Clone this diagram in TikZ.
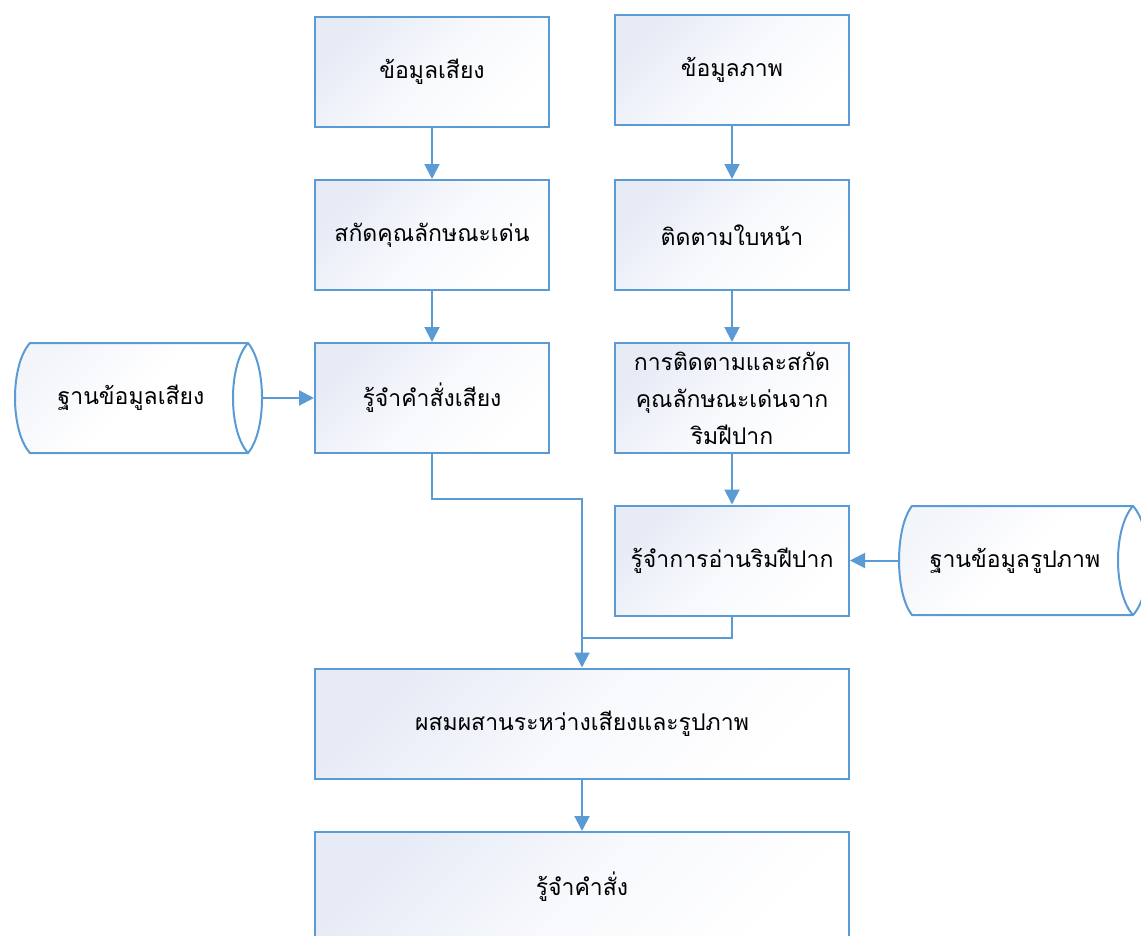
\documentclass[tikz,border=0pt]{standalone}
\usepackage{fontspec}
\newfontfamily\thaifont[Script=Thai]{Loma}
\usetikzlibrary{arrows.meta}
\definecolor{flowblue}{HTML}{5B9BD5}
\definecolor{boxtint}{HTML}{E6EBF6}
\begin{document}
\begin{tikzpicture}[x=1pt,y=-1pt,
  stepbox/.style={draw=flowblue, line width=2pt, minimum width=234pt,
    minimum height=110pt, top color=boxtint, bottom color=white,
    middle color=boxtint!30!white, shading angle=45,
    font=\thaifont\fontsize{23}{37}\selectfont,
    align=center, inner sep=0pt},
  dbbody/.style={minimum height=110pt, inner sep=0pt},
  dblabel/.style={font=\thaifont\fontsize{23}{37}\selectfont, inner sep=0pt},
  dbline/.style={draw=flowblue, line width=2pt, top color=boxtint!50!white,
    bottom color=white, middle color=white, shading angle=45},
  flow/.style={draw=flowblue, line width=2pt,
    -{Triangle[length=15pt,width=15pt]}},
  link/.style={draw=flowblue, line width=2pt}
]
\useasboundingbox (0,0) rectangle (1141,935);
\clip (0,0) rectangle (1141,935);

% process steps
\node[stepbox] (voice)   at (432,72)    {ข้อมูลเสียง};
\node[stepbox] (image)   at (732,69.5)  {ข้อมูลภาพ};
\node[stepbox] (feat)    at (432,235)   {สกัดคุณลักษณะเด่น};
\node[stepbox] (face)    at (732,235)   {ติดตามใบหน้า};
\node[stepbox] (asr)     at (432,398)   {รู้จำคำสั่งเสียง};
\node[stepbox] (lipfeat) at (732,398)   {การติดตามและสกัด\\คุณลักษณะเด่นจาก\\ริมฝีปาก};
\node[stepbox] (lipread) at (732,560.5) {รู้จำการอ่านริมฝีปาก};
\node[stepbox, minimum width=534pt] (fuse) at (582,723.5) {ผสมผสานระหว่างเสียงและรูปภาพ};
\node[stepbox, minimum width=534pt] (cmd)  at (582,887)   {รู้จำคำสั่ง};

% stored data (horizontal cylinders)
\path[dbline] (30,343) -- (248,343)
  .. controls (266.7,365) and (266.7,431) .. (248,453)
  -- (30,453) .. controls (10,431) and (10,365) .. (30,343) -- cycle;
\draw[draw=flowblue, line width=2pt] (248,343)
  .. controls (228,365) and (228,431) .. (248,453);
\node[dbbody, minimum width=247pt] (vdb) at (138.5,398) {};
\node[dblabel] (vdblabel) at (131,398) {ฐานข้อมูลเสียง};

\path[dbline] (912,506) -- (1133,506)
  .. controls (1153,528) and (1153,593) .. (1133,615)
  -- (912,615) .. controls (894.7,593) and (894.7,528) .. (912,506) -- cycle;
\draw[draw=flowblue, line width=2pt] (1133,506)
  .. controls (1113,528) and (1113,593) .. (1133,615);
\node[dbbody, minimum width=249pt] (idb) at (1023.5,560.5) {};
\node[dblabel] (idblabel) at (1015,560.5) {ฐานข้อมูลรูปภาพ};

% connectors
\draw[flow] (voice.south) -- (feat.north);
\draw[flow] (feat.south) -- (asr.north);
\draw[flow] (image.south) -- (face.north);
\draw[flow] (face.south) -- (lipfeat.north);
\draw[flow] (lipfeat.south) -- (lipread.north);
\draw[flow] (vdb.east) -- (asr.west);
\draw[flow] (idb.west) -- (lipread.east);
\coordinate (merge) at (582,638);
\draw[flow] (asr.south) -- ++(0,45) -| (fuse.north);
\draw[link] (lipread.south) |- (merge);
\draw[flow] (fuse.south) -- (cmd.north);
\end{tikzpicture}
\end{document}
